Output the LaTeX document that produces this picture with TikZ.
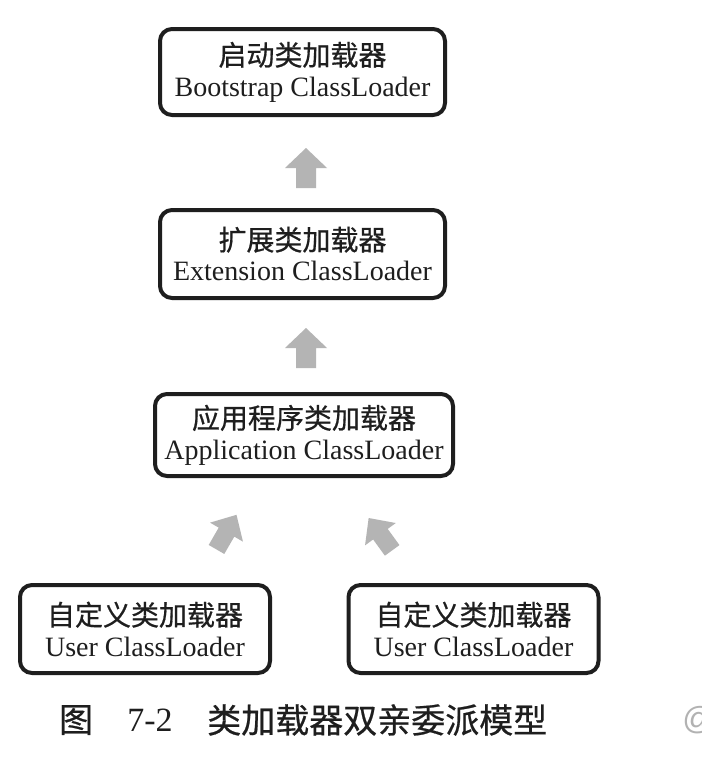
\documentclass[tikz,border=0pt]{standalone}
\usepackage{fontspec}
\setmainfont{Liberation Serif}
\newfontfamily\cjk[FakeBold=0.6]{Noto Sans CJK SC}
\newfontfamily\capsans{Liberation Sans}
\definecolor{arrowgray}{HTML}{B4B4B4}
\definecolor{inkblack}{HTML}{1E1E1E}
\begin{document}
\begin{tikzpicture}[x=0.75pt,y=-0.75pt,
  loader/.style={draw=inkblack, line width=3pt, rounded corners=9pt,
    align=center, inner sep=0pt, text=inkblack,
    font=\fontsize{21}{23}\selectfont},
  caption/.style={inner sep=0pt, text=inkblack, font=\fontsize{25.5}{28}\selectfont},
  pics/uparrow/.style={code={
    \fill[arrowgray] (0,-20) -- (21,0) -- (10,0) -- (10,20)
      -- (-10,20) -- (-10,0) -- (-21,0) -- cycle;}},
  pics/tiltarrow/.style={code={
    \fill[arrowgray] (0,-21) -- (19,-1) -- (9,-1) -- (9,19)
      -- (-9,19) -- (-9,-1) -- (-19,-1) -- cycle;}}
]
% page
\fill[white] (0,0) rectangle (702,764);
\useasboundingbox (0,0) rectangle (702,764);

% class loaders
\node[loader, minimum width=213.75pt, minimum height=64.5pt] (boot) at (302.5,72)
  {{\cjk 启动类加载器}\\Bootstrap ClassLoader};
\node[loader, minimum width=213.75pt, minimum height=66pt] (ext) at (302.5,254)
  {{\cjk 扩展类加载器}\\Extension ClassLoader};
\node[loader, minimum width=223.5pt, minimum height=61.5pt] (app) at (304,435)
  {{\cjk 应用程序类加载器}\\Application ClassLoader};
\node[loader, minimum width=187.5pt, minimum height=66pt] (userL) at (145,629)
  {{\cjk 自定义类加载器}\\User ClassLoader};
\node[loader, minimum width=187.5pt, minimum height=66pt] (userR) at (473.5,629)
  {{\cjk 自定义类加载器}\\User ClassLoader};

% delegation arrows (child -> parent)
\pic at (306,168) {uparrow};
\pic at (306,348) {uparrow};
\pic[rotate=-30] at (226,533) {tiltarrow};
\pic[rotate=36] at (381,535) {tiltarrow};

% caption
\node[caption] (capfig) at (76,720) {\cjk 图};
\node[caption] (capnum) at (150,720) {7-2};
\node[caption, anchor=west] (captext) at (207,720) {\cjk 类加载器双亲委派模型};
\node[inner sep=0pt, anchor=west, text=black!30, font=\capsans\fontsize{24}{26}\selectfont]
  (mark) at (682,720) {@};
\end{tikzpicture}
\end{document}
